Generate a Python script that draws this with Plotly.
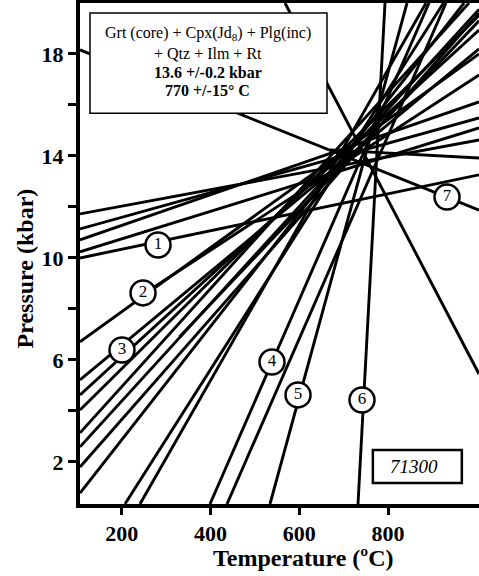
import plotly.graph_objects as go

# Reaction lines: (T start, P start, T end, P end)
line_T0 = [106.1, 567.8, 732.2, 534.0, 398.9, 437.2, 106.1, 106.1, 106.1, 106.1,
           106.1, 106.1, 106.1, 207.4, 241.2, 106.1, 106.1, 106.1, 106.1, 106.1,
           106.1, 669.1, 263.7, 330.0]
line_P0 = [18.16, 20.0, 0.35, 0.35, 0.35, 0.35, 6.71, 5.22, 4.04, 3.14,
           2.59, 1.80, 0.78, 0.35, 0.35, 4.63, 11.73, 11.14, 10.71, 10.24,
           10.0, 14.24, 8.75, 6.9]
line_T1 = [1004.7, 1004.7, 793.0, 842.6, 892.1, 930.4, 1004.7, 1004.7, 1004.7, 982.2,
           1004.7, 1004.7, 971.0, 924.8, 885.4, 1004.7, 1004.7, 1004.7, 1004.7, 1004.7,
           1004.7, 1004.7, 1004.7, 1004.7]
line_P1 = [11.88, 5.45, 20.0, 20.0, 20.0, 20.0, 18.0, 18.2, 19.51, 20.0,
           19.75, 19.6, 20.0, 20.0, 20.0, 18.94, 14.63, 15.49, 16.12, 15.10,
           13.26, 13.92, 17.18, 19.3]

# Circled reaction labels
label_text = ["1", "2", "3", "4", "5", "6", "7"]
label_T = [281.8, 248.0, 200.7, 538.5, 597.1, 741.2, 932.7]
label_P = [10.51, 8.63, 6.39, 5.92, 4.63, 4.43, 12.39]

x_ticks = [200, 400, 600, 800]
y_ticks = [2, 6, 10, 14, 18]
y_minor_ticks = [4, 8, 12, 16]

SERIF = "Liberation Serif"

fig = go.Figure()
for t0, p0, t1, p1 in zip(line_T0, line_P0, line_T1, line_P1):
    fig.add_trace(go.Scatter(x=[t0, t1], y=[p0, p1], mode="lines",
                             line=dict(color="black", width=2.9),
                             showlegend=False, hoverinfo="skip"))

fig.add_trace(go.Scatter(x=label_T, y=label_P, mode="markers+text", text=label_text,
                         textposition="middle center",
                         textfont=dict(family=SERIF, size=17, color="black"),
                         marker=dict(size=25, color="white",
                                     line=dict(color="black", width=2.5)),
                         showlegend=False, hoverinfo="skip"))

fig.update_layout(
    width=479, height=576,
    margin=dict(l=80, r=0, t=3, b=72),
    paper_bgcolor="white", plot_bgcolor="white",
    xaxis=dict(range=[106.1, 1004.7], tickvals=x_ticks, showgrid=False, zeroline=False,
               showline=True, linewidth=4, linecolor="black", mirror=True,
               ticks="outside", ticklen=7, tickwidth=2.5, tickcolor="black",
               tickfont=dict(family=SERIF, size=22, color="black", weight="bold")),
    yaxis=dict(range=[0.35, 20.0], tickvals=y_ticks, showgrid=False, zeroline=False,
               showline=True, linewidth=4, linecolor="black", mirror=False,
               ticks="outside", ticklen=8, tickwidth=2.5, tickcolor="black",
               minor=dict(tickvals=y_minor_ticks, ticks="outside", ticklen=8,
                          tickwidth=2.5, tickcolor="black", showgrid=False),
               tickfont=dict(family=SERIF, size=22, color="black", weight="bold")),
    shapes=[
        dict(type="rect", xref="paper", yref="paper", x0=0.025, x1=0.619, y0=0.780, y1=0.980,
             fillcolor="white", line=dict(color="black", width=1.5), layer="above"),
        dict(type="rect", xref="paper", yref="paper", x0=0.734, x1=0.957, y0=0.042, y1=0.108,
             fillcolor="white", line=dict(color="black", width=2.5), layer="above"),
    ],
    annotations=[
        dict(text="Grt (core) + Cpx(Jd<sub>8</sub>) + Plg(inc)", xref="paper", yref="paper",
             x=0.32, y=0.940, xanchor="center", yanchor="middle", showarrow=False,
             font=dict(family=SERIF, size=16, color="black")),
        dict(text="+ Qtz + Ilm + Rt", xref="paper", yref="paper",
             x=0.32, y=0.900, xanchor="center", yanchor="middle", showarrow=False,
             font=dict(family=SERIF, size=16, color="black")),
        dict(text="13.6 +/-0.2 kbar", xref="paper", yref="paper",
             x=0.32, y=0.862, xanchor="center", yanchor="middle", showarrow=False,
             font=dict(family=SERIF, size=16, color="black", weight="bold")),
        dict(text="770 +/-15° C", xref="paper", yref="paper",
             x=0.32, y=0.826, xanchor="center", yanchor="middle", showarrow=False,
             font=dict(family=SERIF, size=16, color="black", weight="bold")),
        dict(text="<i>71300</i>", xref="paper", yref="paper",
             x=0.836, y=0.075, xanchor="center", yanchor="middle", showarrow=False,
             font=dict(family=SERIF, size=19, color="black")),
        dict(text="Temperature (ºC)", xref="paper", yref="paper",
             x=0.559, y=-0.108, xanchor="center", yanchor="middle", showarrow=False,
             font=dict(family=SERIF, size=24, color="black", weight="bold")),
        dict(text="Pressure (kbar)", xref="paper", yref="paper",
             x=-0.138, y=0.47, xanchor="center", yanchor="middle", showarrow=False,
             textangle=-90,
             font=dict(family=SERIF, size=24, color="black", weight="bold")),
    ],
)

fig.write_html("out.html")
